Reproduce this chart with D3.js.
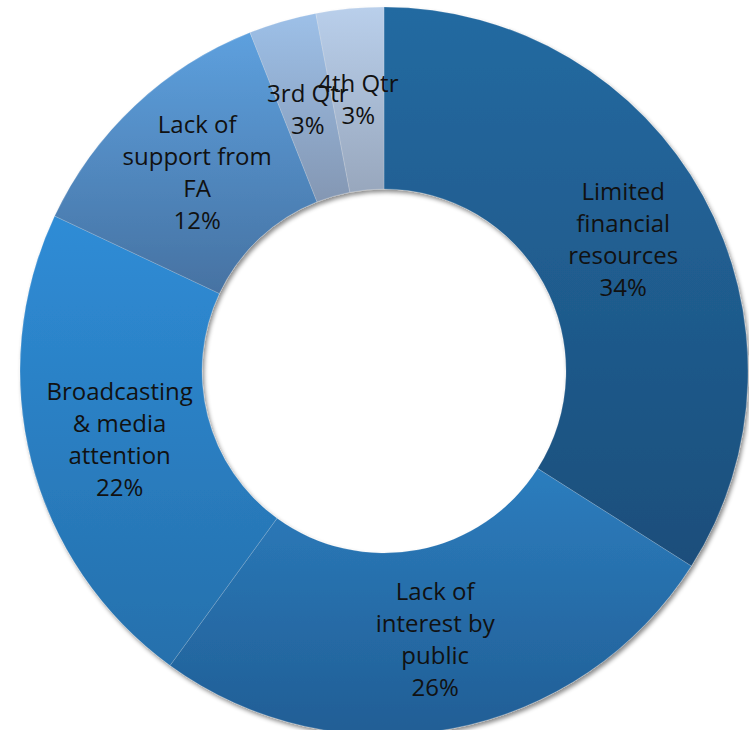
<!DOCTYPE html>
<html>
<head>
<meta charset="utf-8">
<script src="https://cdn.jsdelivr.net/npm/d3@7"></script>
<style>
  html, body { margin: 0; padding: 0; background: #ffffff; }
  svg { display: block; }
</style>
</head>
<body>
<svg id="chart" width="749" height="730"></svg>
<script>
// Reasons cited, share of responses (%)
const categories = [
  "Limited financial resources",
  "Lack of interest by public",
  "Broadcasting & media attention",
  "Lack of support from FA",
  "3rd Qtr",
  "4th Qtr"
];
const values = [34, 26, 22, 12, 3, 3];
// Wrapped label lines for each category
const labelLines = [
  ["Limited", "financial", "resources"],
  ["Lack of", "interest by", "public"],
  ["Broadcasting", "& media", "attention"],
  ["Lack of", "support from", "FA"],
  ["3rd Qtr"],
  ["4th Qtr"]
];
// Top / bottom colours of each slice's vertical gradient
const topColors    = ["#246AA1", "#2C7DBE", "#2F8CD6", "#5DA0DE", "#9DC0E8", "#B9CFEB"];
const bottomColors = ["#1B4E7B", "#215E95", "#2570AC", "#4672A2", "#8497B3", "#98A7BD"];

const width = 749, height = 730;
const cx = 384, cy = 371;
const outerR = 364, innerR = 182;
const lineH = 32;

const svg = d3.select("#chart");
const defs = svg.append("defs");

const shadow = defs.append("filter")
  .attr("id", "ringShadow")
  .attr("x", "-10%").attr("y", "-10%")
  .attr("width", "120%").attr("height", "120%");
shadow.append("feDropShadow")
  .attr("dx", 2).attr("dy", 3)
  .attr("stdDeviation", 2.2)
  .attr("flood-color", "#000")
  .attr("flood-opacity", 0.45);

categories.forEach((c, i) => {
  const g = defs.append("linearGradient")
    .attr("id", "grad" + i)
    .attr("x1", 0).attr("y1", 0).attr("x2", 0).attr("y2", 1);
  g.append("stop").attr("offset", "0%").attr("stop-color", topColors[i]);
  g.append("stop").attr("offset", "100%").attr("stop-color", bottomColors[i]);
});

const data = categories.map((c, i) => ({ name: c, value: values[i], lines: labelLines[i], i }));
const total = d3.sum(values);

const pie = d3.pie().value(d => d.value).sort(null);
const arcs = pie(data);
const arc = d3.arc().innerRadius(innerR).outerRadius(outerR);

const root = svg.append("g").attr("transform", `translate(${cx},${cy})`);

root.append("g")
  .attr("filter", "url(#ringShadow)")
  .selectAll("path")
  .data(arcs)
  .join("path")
  .attr("d", arc)
  .attr("fill", d => `url(#grad${d.data.i})`)
  .attr("stroke", "#ffffff")
  .attr("stroke-opacity", 0.25)
  .attr("stroke-width", 0.7);

const labels = root.append("g")
  .attr("font-family", "'Open Sans', 'Noto Sans', sans-serif")
  .attr("font-size", 24)
  .attr("fill", "#111111")
  .attr("text-anchor", "middle");

arcs.forEach(a => {
  const [x, y] = arc.centroid(a);
  const lines = a.data.lines.concat([Math.round(a.data.value / total * 100) + "%"]);
  const n = lines.length;
  const t = labels.append("text").attr("x", x).attr("y", y);
  lines.forEach((ln, k) => {
    t.append("tspan")
      .attr("x", x)
      .attr("y", y + (k - (n - 1) / 2) * lineH + 9)
      .text(ln);
  });
});
</script>
</body>
</html>
